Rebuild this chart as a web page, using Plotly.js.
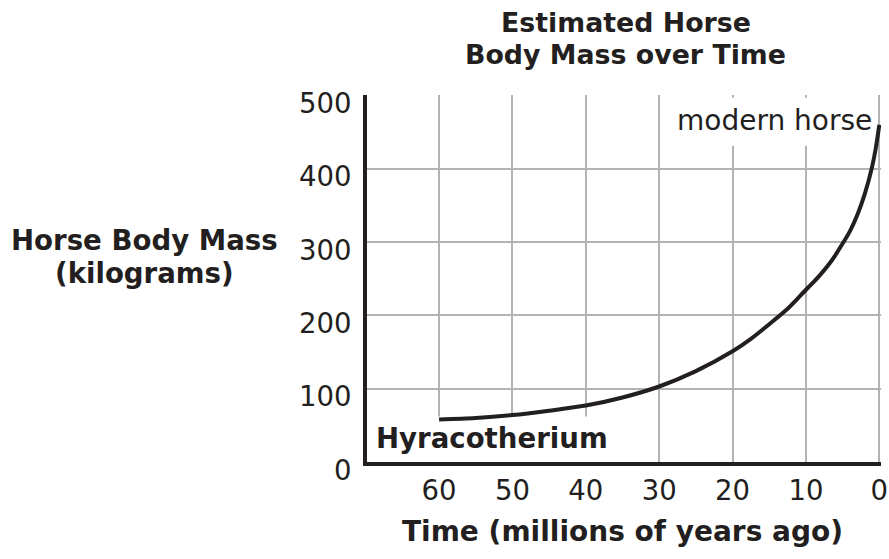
<!DOCTYPE html>
<html>
<head>
<meta charset="utf-8">
<script src="https://cdn.plot.ly/plotly-3.0.1.min.js"></script>
<style>html,body{margin:0;padding:0;background:#fff;}#chart{width:889px;height:559px;}</style>
</head>
<body>
<div id="chart"></div>
<script>
// Data
const timeMya = [60, 55, 50, 45, 40, 35, 30, 25, 20, 17.5, 15, 12.5, 10, 9, 8, 7, 6, 5, 4, 3, 2, 1, 0.5, 0];
const bodyMassKg = [58, 60, 64, 70, 77, 88, 103, 124, 151, 168, 188, 209, 235, 245, 256, 268, 282, 298, 315, 337, 365, 402, 427, 460];
const xTickVals = [60, 50, 40, 30, 20, 10, 0];
const xTickText = ['60', '50', '40', '30', '20', '10', '0'];
const yTickVals = [0, 100, 200, 300, 400, 500];
const yTickText = ['0', '100', '200', '300', '400', '500'];
const titleLines = ['Estimated Horse', 'Body Mass over Time'];
const yTitleLines = ['Horse Body Mass', '(kilograms)'];
const xTitle = 'Time (millions of years ago)';
const startLabel = 'Hyracotherium';
const endLabel = 'modern horse';

const ink = '#231f20';
const grid = '#b3b3b3';
const fam = 'DejaVu Sans, Verdana, sans-serif';

const trace = {
  x: timeMya, y: bodyMassKg, type: 'scatter', mode: 'lines',
  line: {color: ink, width: 4, shape: 'spline', smoothing: 0.85},
  hoverinfo: 'skip'
};

function ann(text, x, y, size, bold) {
  return {text: text, xref: 'paper', yref: 'paper', x: x, y: y,
    xanchor: 'center', yanchor: 'middle', showarrow: false,
    font: {family: fam, size: size, color: ink, weight: bold ? 'bold' : 'normal'}};
}

// y-axis title: two lines; line spacing follows the outer font size
const yTitleText = yTitleLines.map(function (s) {
  return '<span style="font-size:27.6px">' + s + '</span>';
}).join('<br>');

const layout = {
  width: 889, height: 559,
  margin: {l: 367, r: 8, t: 95, b: 97, pad: 0},
  paper_bgcolor: '#fff', plot_bgcolor: '#fff',
  showlegend: false, hovermode: false,
  xaxis: {
    range: [69.82, -0.23], tickvals: xTickVals, ticktext: xTickText,
    showgrid: true, gridcolor: grid, gridwidth: 2, zeroline: false,
    showline: true, linecolor: ink, linewidth: 4,
    ticks: '', ticklabelstandoff: 1,
    tickfont: {family: fam, size: 27.5, color: ink}
  },
  yaxis: {
    range: [0, 500.7], tickvals: yTickVals, ticktext: yTickText,
    showgrid: true, gridcolor: grid, gridwidth: 2, zeroline: false,
    showline: true, linecolor: ink, linewidth: 4,
    ticks: '', ticklabelstandoff: 6, ticklabelshift: 8,
    tickfont: {family: fam, size: 27.5, color: ink}
  },
  shapes: [
    {type: 'rect', layer: 'between', xref: 'x', yref: 'y', x0: 29.6, x1: 0.45, y0: 431.6, y1: 497,
     fillcolor: '#fff', line: {width: 0}},
    {type: 'rect', layer: 'between', xref: 'x', yref: 'y', x0: 69.82, x1: 31.3, y0: 0, y1: 62,
     fillcolor: '#fff', line: {width: 0}}
  ],
  annotations: [
    ann(titleLines[0], 0.503, 1.1985, 26.8, true),
    ann(titleLines[1], 0.503, 1.1112, 26.8, true),
    ann(yTitleText, -0.4329, 0.558, 25.4, true),
    ann(xTitle, 0.497, -0.1888, 28, true),
    ann(endLabel, 0.7933, 0.9299, 28, false),
    ann(startLabel, 0.243, 0.0641, 27.6, true)
  ]
};

Plotly.newPlot('chart', [trace], layout, {displayModeBar: false, staticPlot: true});
</script>
</body>
</html>
